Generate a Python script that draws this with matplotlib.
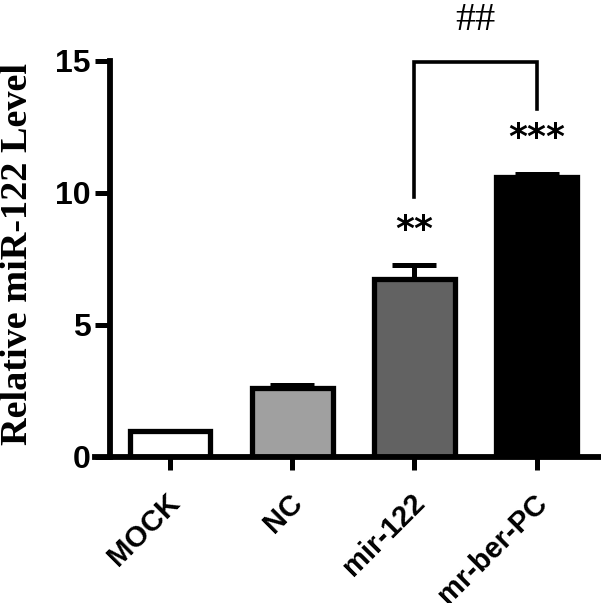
import matplotlib
matplotlib.use("Agg")
import matplotlib.pyplot as plt
import numpy as np
from matplotlib.transforms import ScaledTranslation

GROUPS = ["MOCK", "NC", "mir-122", "mr-ber-PC"]
MEANS = [1.0, 2.6, 6.76, 10.62]
ERRS = [0.0, 0.13, 0.5, 0.1]
COLORS = ["white", "#a0a0a0", "#626262", "black"]
STARS = ["", "", "**", "***"]
STAR_Y = [0, 0, 8.6, 12.1]
YTICKS = [0, 5, 10, 15]

# bracket between mir-122 and mr-ber-PC
BRACKET_X = [2, 3]
BRACKET_TOP = 14.95
BRACKET_LEGS = [9.85, 13.2]
BRACKET_LABEL = "##"
BRACKET_LABEL_Y = 16.55

fig = plt.figure(figsize=(6.01, 6.03), dpi=100)
ax = fig.add_axes([95 / 601, 146 / 603, 506 / 601, 396 / 603])

x = np.arange(len(GROUPS))
ax.errorbar(
    x,
    MEANS,
    yerr=[np.zeros(len(ERRS)), ERRS],
    fmt="none",
    ecolor="black",
    elinewidth=3.6,
    capsize=16,
    capthick=3.6,
    zorder=1,
)
ax.bar(x, MEANS, width=0.66, color=COLORS, edgecolor="black", linewidth=3.8, zorder=2)

for xi, s, sy in zip(x, STARS, STAR_Y):
    if s:
        ax.text(xi, sy, s, ha="center", va="center", fontsize=26,
                fontweight="bold", family="DejaVu Sans")

bx0, bx1 = BRACKET_X
ax.plot(
    [bx0, bx0, bx1, bx1],
    [BRACKET_LEGS[0], BRACKET_TOP, BRACKET_TOP, BRACKET_LEGS[1]],
    color="black",
    linewidth=2.6,
    clip_on=False,
    solid_joinstyle="miter",
)
ax.text(
    (bx0 + bx1) / 2,
    BRACKET_LABEL_Y,
    BRACKET_LABEL,
    ha="center",
    va="center",
    fontsize=29,
    family="Liberation Serif",
)

ax.set_xlim(-0.614, 3.527)
ax.set_ylim(0, 15)
ax.spines["top"].set_visible(False)
ax.spines["right"].set_visible(False)
ax.spines["left"].set_position(("data", -0.491))
for sp in ("left", "bottom"):
    ax.spines[sp].set_linewidth(4.2)
    ax.spines[sp].set_capstyle("projecting")

ax.set_yticks(YTICKS)
ax.set_yticklabels([str(t) for t in YTICKS], fontsize=23, fontweight="bold", family="Liberation Sans")
ax.tick_params(axis="y", length=10.5, width=3.6, pad=3.5, direction="out")

ax.set_xticks(x)
ax.set_xticklabels(
    GROUPS,
    rotation=45,
    ha="right",
    va="top",
    rotation_mode="anchor",
    fontsize=21,
    fontweight="bold",
    family="Liberation Sans",
)
ax.tick_params(axis="x", length=9.4, width=3.6, pad=13.5, direction="out")
offset = ScaledTranslation(-4 / 100, 0, fig.dpi_scale_trans)
for lbl in ax.get_xticklabels():
    lbl.set_transform(lbl.get_transform() + offset)

ax.set_ylabel(
    "Relative miR-122 Level",
    fontsize=27.5,
    fontweight="bold",
    family="Liberation Serif",
)
ax.yaxis.set_label_coords(-0.119, 0.513)

fig.savefig("out.png", dpi=100, facecolor="white")
